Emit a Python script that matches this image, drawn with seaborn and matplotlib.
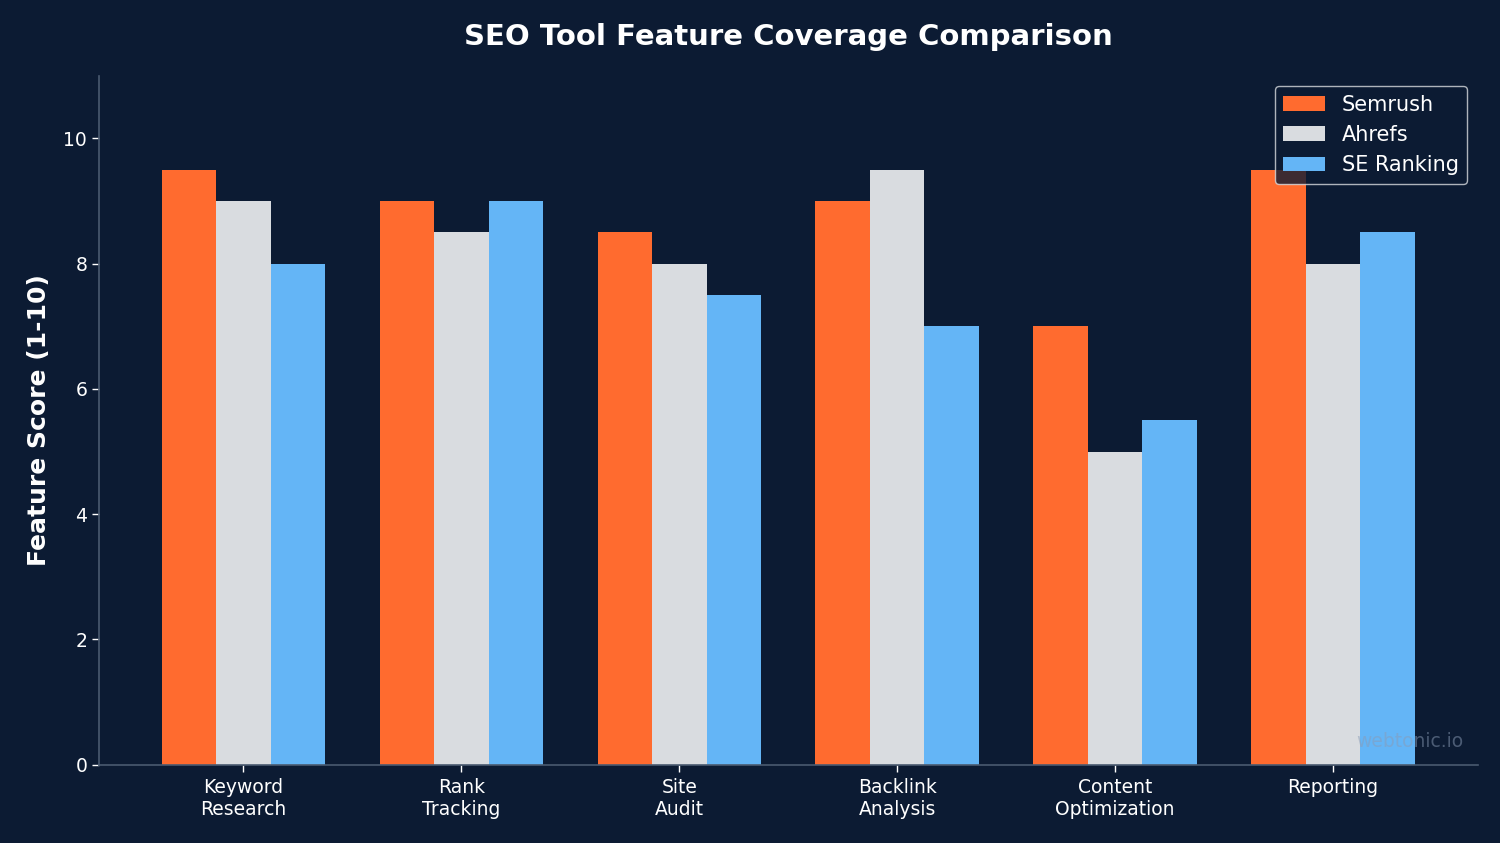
import matplotlib
matplotlib.use("Agg")
import matplotlib.pyplot as plt
import pandas as pd
import seaborn as sns

# data
features = ["Keyword\nResearch", "Rank\nTracking", "Site\nAudit",
            "Backlink\nAnalysis", "Content\nOptimization", "Reporting"]
tools = ["Semrush", "Ahrefs", "SE Ranking"]
semrush = [9.5, 9.0, 8.5, 9.0, 7.0, 9.5]
ahrefs = [9.0, 8.5, 8.0, 9.5, 5.0, 8.0]
se_ranking = [8.0, 9.0, 7.5, 7.0, 5.5, 8.5]

df = pd.DataFrame({
    "Feature": features * 3,
    "Tool": [tools[0]] * 6 + [tools[1]] * 6 + [tools[2]] * 6,
    "Score": semrush + ahrefs + se_ranking,
})

bg = "#0c1b33"
spine_col = "#4a5a70"
palette = {"Semrush": "#ff6b2f", "Ahrefs": "#d9dce0", "SE Ranking": "#64b5f6"}

sns.set_style("dark")
plt.rcParams["font.family"] = ["DejaVu Sans"]

fig, ax = plt.subplots(figsize=(15, 8.43), dpi=100)
fig.patch.set_facecolor(bg)
ax.set_facecolor(bg)

sns.barplot(data=df, x="Feature", y="Score", hue="Tool", palette=palette,
            width=0.75, saturation=1, ax=ax, edgecolor="none")

ax.set_xlim(-0.6625, 5.6625)
ax.set_ylim(0, 11)
ax.set_yticks([0, 2, 4, 6, 8, 10])
ax.set_xlabel("")
ax.set_ylabel("Feature Score (1-10)", color="white", fontsize=18,
              fontweight="bold", labelpad=9)
ax.set_title("SEO Tool Feature Coverage Comparison", color="white",
             fontsize=21, fontweight="bold", pad=22)
ax.grid(False)

for side in ["top", "right"]:
    ax.spines[side].set_visible(False)
for side in ["left", "bottom"]:
    ax.spines[side].set_visible(True)
    ax.spines[side].set_color(spine_col)
    ax.spines[side].set_linewidth(1.2)

ax.tick_params(axis="both", colors="white", labelsize=13.5, length=5,
               width=1, left=True, bottom=True)
ax.tick_params(axis="x", pad=5)

leg = ax.legend(loc="upper right", fontsize=15, frameon=True,
                facecolor=bg, edgecolor="#d9dce0", framealpha=0.8)
for t in leg.get_texts():
    t.set_color("white")

ax.text(0.99, 0.034, "webtonic.io", transform=ax.transAxes, ha="right",
        va="center", fontsize=13.5, color="#8a9bb5", alpha=0.5)

plt.subplots_adjust(left=0.066, right=0.985, top=0.91, bottom=0.093)
fig.savefig("out.png", dpi=100, facecolor=bg)
